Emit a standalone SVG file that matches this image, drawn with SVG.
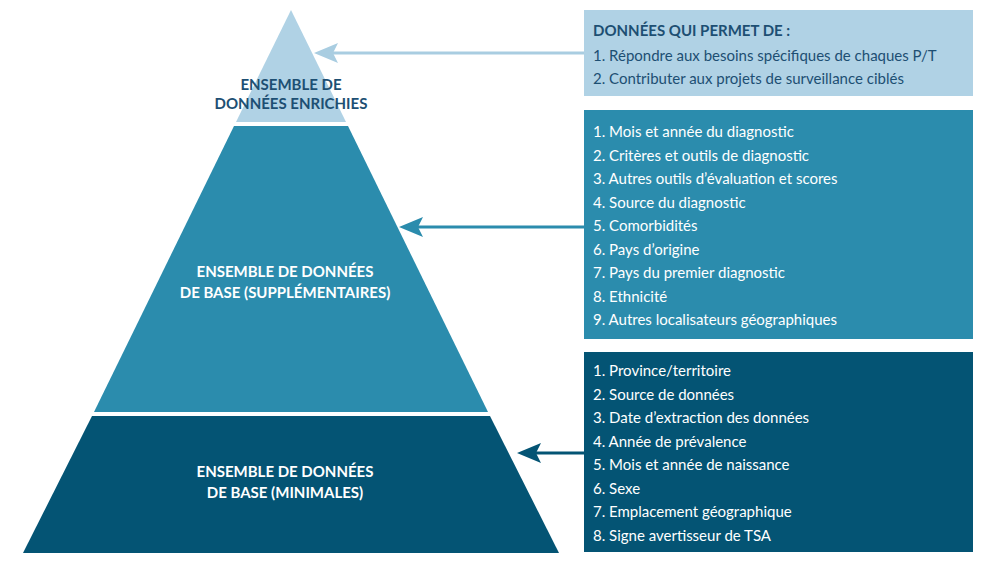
<svg xmlns="http://www.w3.org/2000/svg" width="982" height="563" viewBox="0 0 982 563">
<style>
.t{font-family:Lato,"Open Sans",sans-serif;font-size:15px}
.h{font-family:Lato,"Open Sans",sans-serif;font-size:15px;font-weight:bold;text-anchor:middle}
.w{fill:#fff}
.d{fill:#1d4f73}
</style>
<defs>
<marker id="a1" markerWidth="8" markerHeight="8" refX="1" refY="4" orient="auto" markerUnits="userSpaceOnUse" viewBox="0 0 8 8"><path d="M8,0 L0,4 L8,8 L6,4z" fill="#a9cde1"/></marker>
</defs>
<rect width="982" height="563" fill="#fff"/>
<g id="layer-top"><polygon points="291,10 346,122 236,122" fill="#b0d2e5"/>
<text class="h d" x="291" y="90">ENSEMBLE DE</text><text class="h d" x="291" y="109">DONNÉES ENRICHIES</text></g>
<g id="layer-mid"><polygon points="234,126 348,126 488,412 94,412" fill="#2b8cad"/>
<text class="h w" x="285" y="277">ENSEMBLE DE DONNÉES</text><text class="h w" x="285" y="298">DE BASE (SUPPLÉMENTAIRES)</text></g>
<g id="layer-bot"><polygon points="92,416 490,416 559,553 23,553" fill="#045474"/>
<text class="h w" x="285" y="477">ENSEMBLE DE DONNÉES</text><text class="h w" x="285" y="498">DE BASE (MINIMALES)</text></g>
<g id="box-top"><rect x="584" y="10" width="389" height="86" fill="#b0d2e5"/>
<text class="t d" x="593" y="36" font-weight="bold" font-size="16">DONNÉES QUI PERMET DE :</text>
<text class="t d" x="593" y="61">1.  Répondre aux besoins spécifiques de chaques P/T</text>
<text class="t d" x="593" y="84">2.  Contributer aux projets de surveillance ciblés</text></g>
<g id="box-mid"><rect x="584" y="110" width="389" height="229" fill="#2b8cad"/>
<g class="t w">
<text x="593" y="137">1.  Mois et année du diagnostic</text>
<text x="593" y="161">2.  Critères et outils de diagnostic</text>
<text x="593" y="184">3.  Autres outils d’évaluation et scores</text>
<text x="593" y="208">4.  Source du diagnostic</text>
<text x="593" y="231">5.  Comorbidités</text>
<text x="593" y="255">6.  Pays d’origine</text>
<text x="593" y="278">7.  Pays du premier diagnostic</text>
<text x="593" y="302">8.  Ethnicité</text>
<text x="593" y="325">9.  Autres localisateurs géographiques</text></g></g>
<g id="box-bot"><rect x="584" y="352" width="389" height="200" fill="#045474"/>
<g class="t w">
<text x="593" y="376">1.  Province/territoire</text>
<text x="593" y="400">2.  Source de données</text>
<text x="593" y="423">3.  Date d’extraction des données</text>
<text x="593" y="447">4.  Année de prévalence</text>
<text x="593" y="470">5.  Mois et année de naissance</text>
<text x="593" y="494">6.  Sexe</text>
<text x="593" y="517">7.  Emplacement géographique</text>
<text x="593" y="541">8.  Signe avertisseur de TSA</text></g></g>
<g id="connectors" stroke-width="3">
<line x1="584" y1="53" x2="330" y2="53" stroke="#a9cde1"/><path d="M314,53 L338,43 L333,53 L338,63z" fill="#a9cde1"/>
<line x1="584" y1="227" x2="415" y2="227" stroke="#2b8cad"/><path d="M399,227 L423,217 L418,227 L423,237z" fill="#2b8cad"/>
<line x1="584" y1="453" x2="533" y2="453" stroke="#045474"/><path d="M517,453 L541,443 L536,453 L541,463z" fill="#045474"/>
</g>
</svg>
